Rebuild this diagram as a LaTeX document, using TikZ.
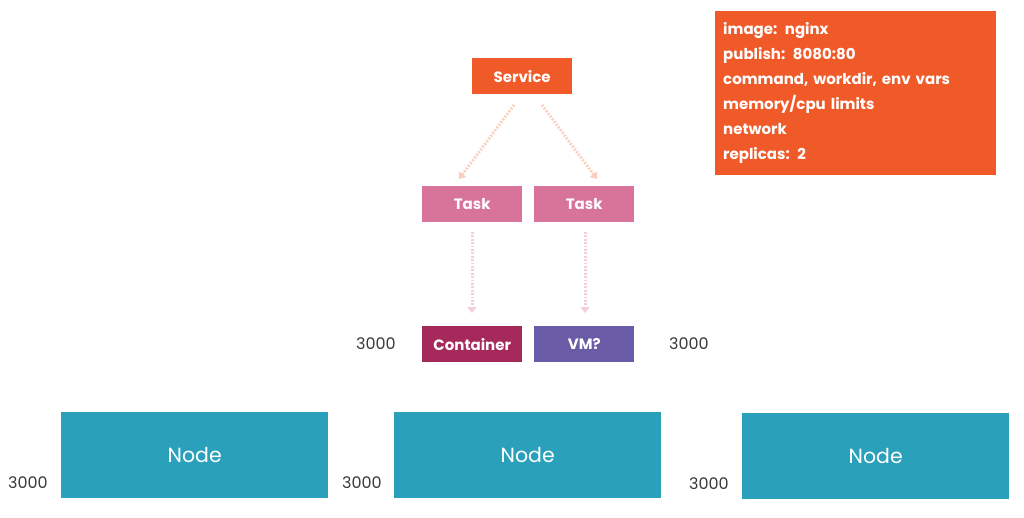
\documentclass[tikz,border=0pt]{standalone}
\usepackage{fontspec}
\setmainfont{Poppins}
\usetikzlibrary{arrows.meta}
\definecolor{svc}{HTML}{F05A28}
\definecolor{task}{HTML}{D8739A}
\definecolor{ctr}{HTML}{A52A5B}
\definecolor{vm}{HTML}{6A5BA6}
\definecolor{nodec}{HTML}{2AA0BB}
\definecolor{arrA}{HTML}{F9D0BE}
\definecolor{arrB}{HTML}{F1CFDC}
\definecolor{lbl}{HTML}{3A3A3A}
\tikzset{
  box/.style={inner sep=0pt, text=white, font=\fontsize{15}{17}\selectfont\bfseries, anchor=north west},
  nodebox/.style={inner sep=0pt, fill=nodec, text=white, font=\fontsize{20.5}{24}\selectfont, anchor=north west, minimum width=267pt, minimum height=86pt},
  num/.style={text=lbl, font=\fontsize{16}{18}\selectfont},
  dotarrow/.style={line width=3pt, dash pattern=on 1.8pt off 1.6pt, -{Triangle[width=9pt,length=6pt]}},
}
\begin{document}
\begin{tikzpicture}[x=1pt,y=-1pt]
\useasboundingbox (0,0) rectangle (1024,518);
\node[box, fill=svc, minimum width=100pt, minimum height=36pt] (svc) at (472,58) {Service};
\node[box, fill=task, minimum width=100pt, minimum height=36pt] (t1) at (422,186) {Task};
\node[box, fill=task, minimum width=100pt, minimum height=36pt] (t2) at (534,186) {Task};
\node[box, fill=ctr, minimum width=100pt, minimum height=36pt] (c) at (422,326) {Container};
\node[box, fill=vm, minimum width=100pt, minimum height=36pt] (v) at (534,326) {VM?};
\node[box, fill=svc, minimum width=281pt, minimum height=164pt, align=left, text width=265pt, inner xsep=8pt, font=\fontsize{15}{25}\selectfont\bfseries] (info) at (715,11) {image: nginx\\publish: 8080:80\\command, workdir, env vars\\memory/cpu limits\\network\\replicas: 2};
\node[nodebox] (n1) at (61,412) {Node};
\node[nodebox] (n2) at (394,412) {Node};
\node[nodebox] (n3) at (742,413) {Node};
\node[num] (l1) at (376,344) {3000};
\node[num] (l2) at (689,344) {3000};
\node[num] (l3) at (28,483) {3000};
\node[num] (l4) at (362,483) {3000};
\node[num] (l5) at (709,484) {3000};
\coordinate (a1s) at (514,105); \coordinate (a1e) at (459,179);
\coordinate (a2s) at (542,105); \coordinate (a2e) at (597,179);
\coordinate (a3s) at (472,232); \coordinate (a3e) at (472,313);
\coordinate (a4s) at (585,232); \coordinate (a4e) at (585,313);
\draw[dotarrow, arrA] (a1s) -- (a1e);
\draw[dotarrow, arrA] (a2s) -- (a2e);
\draw[dotarrow, arrB] (a3s) -- (a3e);
\draw[dotarrow, arrB] (a4s) -- (a4e);
\end{tikzpicture}
\end{document}
